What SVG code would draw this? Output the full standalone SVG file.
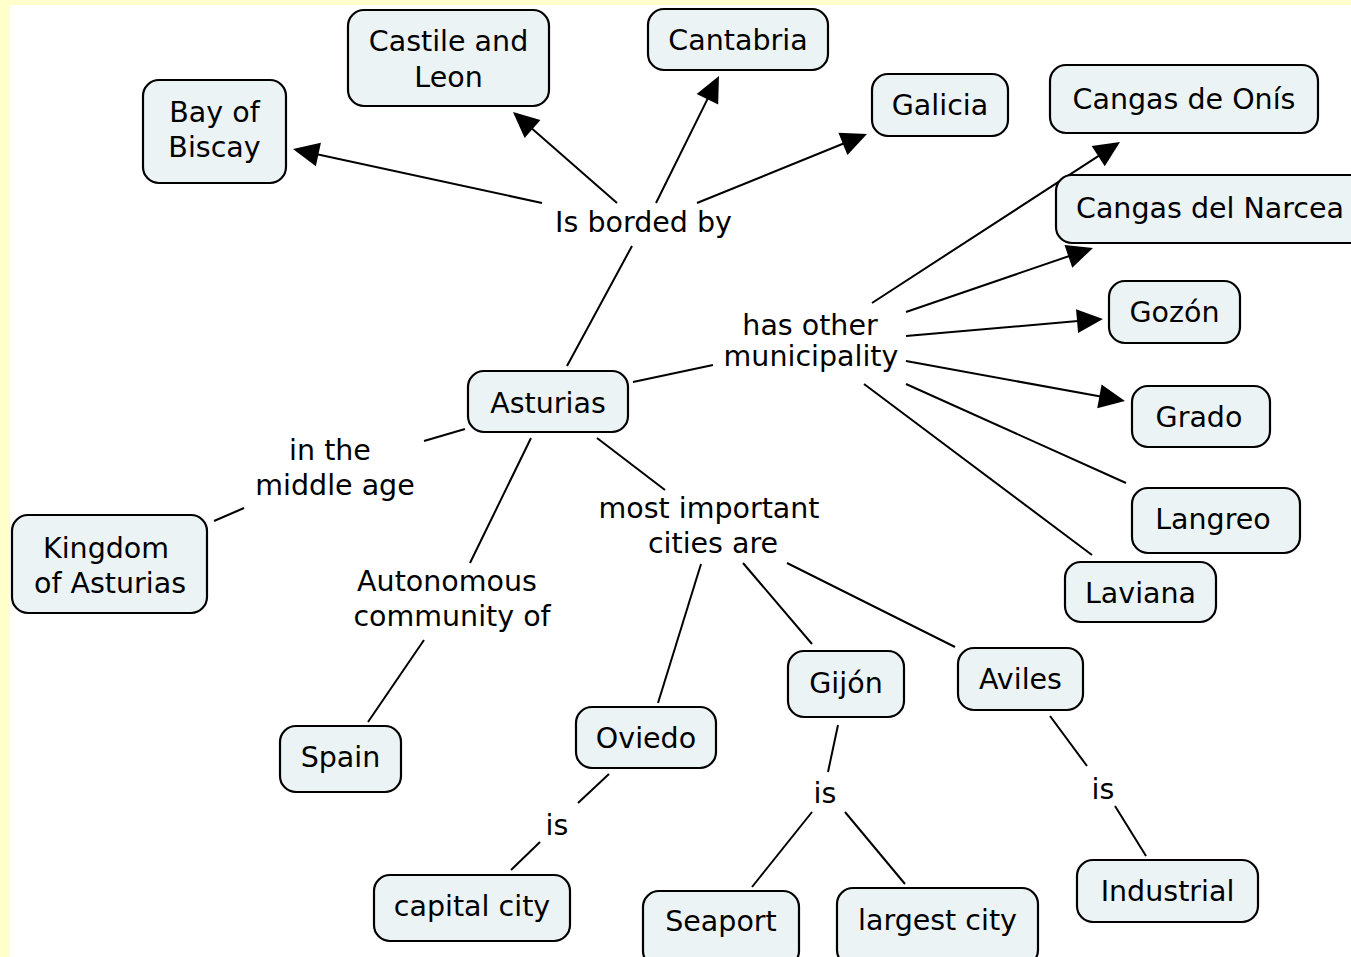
<svg xmlns="http://www.w3.org/2000/svg" width="1351" height="957" viewBox="0 0 1351 957">
<style>
.n rect{fill:#ebf3f5;stroke:#000;stroke-width:2.2}
text{font-family:"DejaVu Sans",Verdana,sans-serif;font-size:28.5px;fill:#000;text-anchor:middle}
.c line{stroke:#000;stroke-width:2}
.c line.a{marker-end:url(#ah)}
</style>
<defs>
<marker id="ah" markerUnits="userSpaceOnUse" markerWidth="32" markerHeight="32" viewBox="-30 -16 32 32" refX="-8" refY="0" orient="auto">
<path d="M0,0 L-26,-12 L-26,12 Z" fill="#000"/>
</marker>
</defs>
<rect x="0" y="0" width="1351" height="957" fill="#ffffcc"/>
<rect x="10" y="5" width="1341" height="952" fill="#fff"/>
<g class="c" id="connectors">
<line x1="567" y1="366" x2="632" y2="246"/>
<line class="a" x1="542" y1="203" x2="300.8" y2="150.7"/>
<line class="a" x1="617" y1="203" x2="519" y2="117.2"/>
<line class="a" x1="656" y1="203" x2="715.4" y2="83.1"/>
<line class="a" x1="697" y1="203" x2="859.6" y2="137"/>
<line x1="633" y1="382" x2="713" y2="365"/>
<line class="a" x1="872" y1="303" x2="1113.3" y2="146.3"/>
<line class="a" x1="906" y1="312" x2="1085.4" y2="250.5"/>
<line class="a" x1="906" y1="336" x2="1095" y2="319.6"/>
<line class="a" x1="906" y1="361" x2="1117.1" y2="399.6"/>
<line x1="906" y1="384" x2="1126" y2="483"/>
<line x1="864" y1="384" x2="1092" y2="555"/>
<line x1="465" y1="429" x2="424" y2="441"/>
<line x1="244" y1="508" x2="214" y2="521"/>
<line x1="531" y1="438" x2="470" y2="563"/>
<line x1="424" y1="640" x2="368" y2="722"/>
<line x1="597" y1="438" x2="665" y2="490"/>
<line x1="701" y1="564" x2="658" y2="703"/>
<line x1="743" y1="563" x2="812" y2="644"/>
<line x1="787" y1="563" x2="955" y2="647"/>
<line x1="609" y1="774" x2="578" y2="803"/>
<line x1="540" y1="842" x2="511" y2="870"/>
<line x1="838" y1="725" x2="828" y2="772"/>
<line x1="812" y1="812" x2="752" y2="887"/>
<line x1="845" y1="812" x2="905" y2="884"/>
<line x1="1050" y1="716" x2="1087" y2="766"/>
<line x1="1115" y1="806" x2="1146" y2="856"/>
</g>
<g id="labels">
<text x="643.5" y="232">Is borded by</text>
<text x="810" y="335">has other</text>
<text x="811" y="366">municipality</text>
<text x="330" y="460">in the</text>
<text x="335" y="495">middle age</text>
<text x="447" y="591">Autonomous</text>
<text x="452" y="626">community of</text>
<text x="709" y="518">most important</text>
<text x="713" y="553">cities are</text>
<text x="557" y="835">is</text>
<text x="825" y="803">is</text>
<text x="1103" y="799">is</text>
</g>
<g class="n" id="n-bay"><rect x="143" y="80" width="143" height="103" rx="16"/><text x="214.5" y="122">Bay of</text><text x="214.5" y="157">Biscay</text></g>
<g class="n" id="n-castile"><rect x="348" y="10" width="201" height="96" rx="16"/><text x="448.5" y="51">Castile and</text><text x="448.5" y="87">Leon</text></g>
<g class="n" id="n-cantabria"><rect x="648" y="9" width="180" height="61" rx="16"/><text x="738" y="50">Cantabria</text></g>
<g class="n" id="n-galicia"><rect x="872" y="74" width="136" height="62" rx="16"/><text x="940" y="115">Galicia</text></g>
<g class="n" id="n-onis"><rect x="1050" y="65" width="268" height="68" rx="16"/><text x="1184" y="109">Cangas de Onís</text></g>
<g class="n" id="n-narcea"><rect x="1056" y="175" width="320" height="68" rx="16"/><text x="1076" y="218" style="text-anchor:start">Cangas del Narcea</text></g>
<g class="n" id="n-gozon"><rect x="1109" y="281" width="131" height="62" rx="16"/><text x="1174.5" y="322">Gozón</text></g>
<g class="n" id="n-grado"><rect x="1132" y="386" width="138" height="61" rx="16"/><text x="1199" y="427">Grado</text></g>
<g class="n" id="n-langreo"><rect x="1132" y="488" width="168" height="65" rx="16"/><text x="1213" y="529">Langreo</text></g>
<g class="n" id="n-laviana"><rect x="1065" y="562" width="151" height="60" rx="16"/><text x="1140.5" y="603">Laviana</text></g>
<g class="n" id="n-asturias"><rect x="468" y="371" width="160" height="61" rx="16"/><text x="548" y="413">Asturias</text></g>
<g class="n" id="n-kingdom"><rect x="12" y="515" width="195" height="98" rx="16"/><text x="106" y="558">Kingdom</text><text x="110" y="593">of Asturias</text></g>
<g class="n" id="n-spain"><rect x="280" y="726" width="121" height="66" rx="16"/><text x="340.5" y="767">Spain</text></g>
<g class="n" id="n-oviedo"><rect x="576" y="707" width="140" height="61" rx="16"/><text x="646" y="748">Oviedo</text></g>
<g class="n" id="n-gijon"><rect x="788" y="651" width="116" height="66" rx="16"/><text x="846" y="693">Gijón</text></g>
<g class="n" id="n-aviles"><rect x="958" y="648" width="125" height="62" rx="16"/><text x="1020.5" y="689">Aviles</text></g>
<g class="n" id="n-capital"><rect x="374" y="875" width="196" height="66" rx="16"/><text x="472" y="916">capital city</text></g>
<g class="n" id="n-seaport"><rect x="643" y="891" width="156" height="76" rx="16"/><text x="721" y="931">Seaport</text></g>
<g class="n" id="n-largest"><rect x="837" y="888" width="201" height="78" rx="16"/><text x="937.5" y="930">largest city</text></g>
<g class="n" id="n-industrial"><rect x="1077" y="860" width="181" height="62" rx="16"/><text x="1167.5" y="901">Industrial</text></g>
</svg>
